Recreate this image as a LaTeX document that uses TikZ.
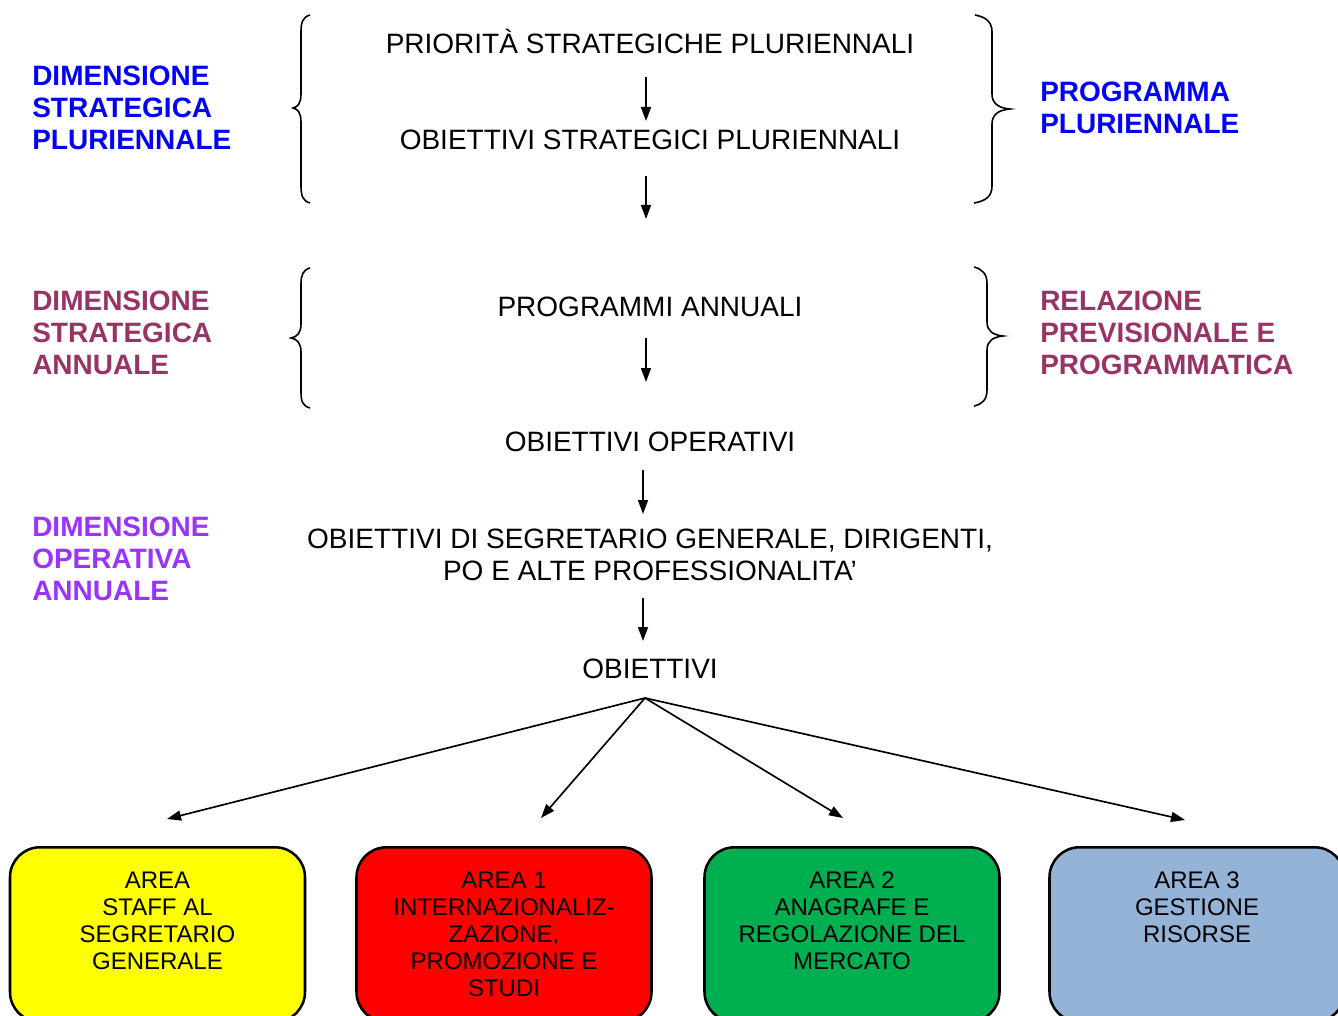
\documentclass[tikz,border=0pt]{standalone}
\usepackage{fontspec}
\setmainfont{Liberation Sans}
\usetikzlibrary{arrows.meta}
\definecolor{dblue}{HTML}{0000FF}
\definecolor{dmaroon}{HTML}{993366}
\definecolor{dpurple}{HTML}{9933FF}
\definecolor{ayellow}{HTML}{FFFF00}
\definecolor{ared}{HTML}{FF0000}
\definecolor{agreen}{HTML}{00B050}
\definecolor{ablue}{HTML}{95B3D7}
\begin{document}
\begin{tikzpicture}[x=0.75pt,y=-0.75pt,
  flowtext/.style={font=\fontsize{21}{24}\selectfont, inner sep=0pt, anchor=base, align=center},
  flowblock/.style={font=\fontsize{21}{24}\selectfont, inner sep=0pt, anchor=north, align=center},
  sidelabel/.style={font=\fontsize{21}{24}\selectfont\bfseries, inner sep=0pt, anchor=north west, align=left},
  arr/.style={-{Triangle[length=10.5pt,width=7.5pt]}, line width=1.25pt},
  bracepath/.style={line width=1.2pt},
  areabox/.style={draw=black, line width=1.9pt, rounded corners=22.5pt, minimum width=221.25pt, minimum height=131pt, anchor=north, inner sep=0pt},
  areatext/.style={font=\fontsize{18}{20.25}\selectfont, inner sep=0pt, anchor=north, align=center}]

\useasboundingbox (0,0) rectangle (1338,1016);
\clip (0,0) rectangle (1338,1016);

% side labels
\node[sidelabel, text=dblue] (dsp) at (32,66) {DIMENSIONE\\STRATEGICA\\PLURIENNALE};
\node[sidelabel, text=dmaroon] (dsa) at (32,291) {DIMENSIONE\\STRATEGICA\\ANNUALE};
\node[sidelabel, text=dpurple] (doa) at (32,517) {DIMENSIONE\\OPERATIVA\\ANNUALE};
\node[sidelabel, text=dblue] (pp) at (1040,82) {PROGRAMMA\\PLURIENNALE};
\node[sidelabel, text=dmaroon] (rpp) at (1040,291) {RELAZIONE\\PREVISIONALE E\\PROGRAMMATICA};

% central flow
\node[flowtext] (p1) at (650,54) {PRIORITÀ STRATEGICHE PLURIENNALI};
\node[flowtext] (o1) at (650,150) {OBIETTIVI STRATEGICI PLURIENNALI};
\node[flowtext] (pa) at (650,316) {PROGRAMMI ANNUALI};
\node[flowtext] (oo) at (650,451) {OBIETTIVI OPERATIVI};
\node[flowblock] (os) at (650,529) {OBIETTIVI DI SEGRETARIO GENERALE, DIRIGENTI,\\PO E ALTE PROFESSIONALITA’};
\node[flowtext] (ob) at (650,678) {OBIETTIVI};

\coordinate (a1s) at (646,77);  \coordinate (a1e) at (646,121);
\coordinate (a2s) at (646,176); \coordinate (a2e) at (646,219);
\coordinate (a3s) at (646,338); \coordinate (a3e) at (646,382);
\coordinate (a4s) at (643,470); \coordinate (a4e) at (643,514);
\coordinate (a5s) at (643,598); \coordinate (a5e) at (643,641);
\draw[arr] (a1s) -- (a1e);
\draw[arr] (a2s) -- (a2e);
\draw[arr] (a3s) -- (a3e);
\draw[arr] (a4s) -- (a4e);
\draw[arr] (a5s) -- (a5e);

% braces
\draw[bracepath] (310,15) .. controls (303,17) and (301,22) .. (301,32) -- (301,94)
  .. controls (301,103) and (298,107) .. (293,108)
  .. controls (298,109) and (301,113) .. (301,122) -- (301,186)
  .. controls (301,196) and (303,201) .. (310,203);
\draw[bracepath] (975,15) .. controls (986,17) and (992,22) .. (992,32) -- (992,94)
  .. controls (992,103) and (998,108) .. (1010,109)
  .. controls (998,110) and (992,115) .. (992,124) -- (992,186)
  .. controls (992,196) and (986,201) .. (974,203);
\draw[bracepath] (310,268) .. controls (303,270) and (301,275) .. (301,284) -- (301,324)
  .. controls (301,333) and (297,337) .. (291,338)
  .. controls (297,339) and (301,343) .. (301,352) -- (301,392)
  .. controls (301,402) and (303,406) .. (310,408);
\draw[bracepath] (974,267) .. controls (982,269) and (987,274) .. (987,283) -- (987,322)
  .. controls (987,331) and (993,335) .. (1003,336)
  .. controls (993,337) and (987,341) .. (987,350) -- (987,390)
  .. controls (987,400) and (982,404) .. (974,406);

% area boxes
\node[areabox, fill=ayellow] (ay) at (157.5,846) {};
\node[areabox, fill=ared] (ar) at (504,846) {};
\node[areabox, fill=agreen] (ag) at (852,846) {};
\node[areabox, fill=ablue] (ab) at (1197,846) {};
\node[areatext] at ([yshift=-19.1pt]ay.north) {AREA\\STAFF AL\\SEGRETARIO\\GENERALE};
\node[areatext] at ([yshift=-19.1pt]ar.north) {AREA 1\\INTERNAZIONALIZ-\\ZAZIONE,\\PROMOZIONE E\\STUDI};
\node[areatext] at ([yshift=-19.1pt]ag.north) {AREA 2\\ANAGRAFE E\\REGOLAZIONE DEL\\MERCATO};
\node[areatext] at ([yshift=-19.1pt]ab.north) {AREA 3\\GESTIONE\\RISORSE};

% fan arrows
\coordinate (fan) at (645,698);
\coordinate (fy) at (167,819);
\coordinate (fr) at (541,818);
\coordinate (fg) at (843,818);
\coordinate (fb) at (1185,820);
\draw[arr] (fan) -- (fy);
\draw[arr] (fan) -- (fr);
\draw[arr] (fan) -- (fg);
\draw[arr] (fan) -- (fb);
\end{tikzpicture}
\end{document}
